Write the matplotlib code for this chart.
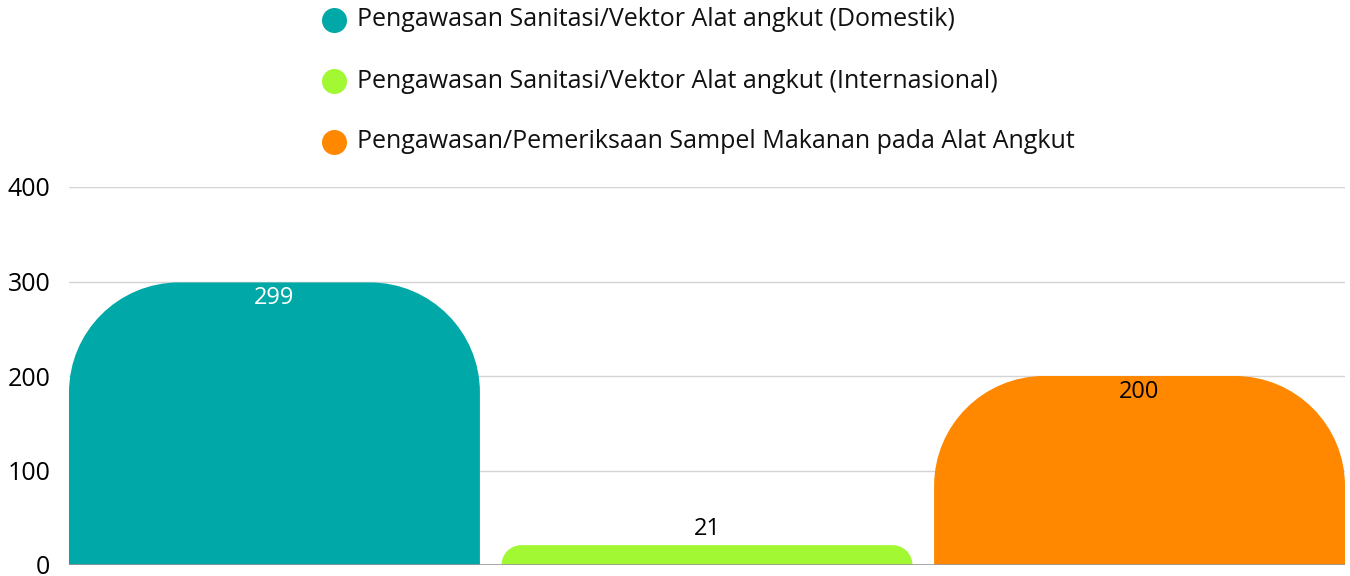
import matplotlib
matplotlib.use("Agg")
import matplotlib.pyplot as plt
from matplotlib.path import Path
from matplotlib.patches import PathPatch
from matplotlib.lines import Line2D

plt.rcParams['font.family'] = ['Open Sans', 'DejaVu Sans']

series = ["Pengawasan Sanitasi/Vektor Alat angkut (Domestik)",
          "Pengawasan Sanitasi/Vektor Alat angkut (Internasional)",
          "Pengawasan/Pemeriksaan Sampel Makanan pada Alat Angkut"]
values = [299, 21, 200]
colors = ["#00A9A7", "#A2F833", "#FF8800"]
label_colors = ["white", "black", "black"]
yticks = [0, 100, 200, 300, 400]

W, H = 1350, 576
fig = plt.figure(figsize=(W / 100, H / 100), dpi=100)
ax_l, ax_r, ax_b, ax_t = 69, 1345, 565, 187
ax = fig.add_axes([ax_l / W, 1 - ax_b / H, (ax_r - ax_l) / W, (ax_b - ax_t) / H])
ax.set_xlim(-0.475, 2.475)
ax.set_ylim(0, 400)

# pixel scales
px_x = (ax_r - ax_l) / (2.475 + 0.475)
px_y = (ax_b - ax_t) / 400.0
bw = 0.95
rad_px = 110
K = 0.5523

def rounded_bar(xc, h):
    r_px = min(rad_px, h * px_y, bw * px_x / 2)
    rx = r_px / px_x
    ry = r_px / px_y
    x0, x1 = xc - bw / 2, xc + bw / 2
    verts = [(x0, 0), (x0, h - ry),
             (x0, h - ry + K * ry), (x0 + rx - K * rx, h), (x0 + rx, h),
             (x1 - rx, h),
             (x1 - rx + K * rx, h), (x1, h - ry + K * ry), (x1, h - ry),
             (x1, 0), (x0, 0)]
    codes = [Path.MOVETO, Path.LINETO,
             Path.CURVE4, Path.CURVE4, Path.CURVE4,
             Path.LINETO,
             Path.CURVE4, Path.CURVE4, Path.CURVE4,
             Path.LINETO, Path.CLOSEPOLY]
    return PathPatch(Path(verts, codes), facecolor=None, edgecolor='none')

for i, (v, c) in enumerate(zip(values, colors)):
    p = rounded_bar(i, v)
    p.set_facecolor(c)
    p.set_zorder(3)
    ax.add_patch(p)
    if v * px_y > 40:
        ax.annotate(str(v), (i, v), xytext=(0, -16 * 0.72), textcoords='offset points',
                    ha='center', va='center', color=label_colors[i], fontsize=17, zorder=4)
    else:
        ax.annotate(str(v), (i, v), xytext=(0, 16 * 0.72), textcoords='offset points',
                    ha='center', va='center', color='black', fontsize=17, zorder=4)

ax.set_yticks(yticks)
ax.set_yticklabels([str(t) for t in yticks], fontsize=18, color='black')
ax.tick_params(axis='y', length=0, pad=13.5)
ax.set_xticks([])
for s in ax.spines.values():
    s.set_visible(False)
ax.grid(axis='y', color='#d4d4d4', linewidth=1, zorder=0)
ax.axhline(0, color='#999999', linewidth=1.2, zorder=5)

# legend
rows_y = [20, 81, 142]
for name, c, yy in zip(series, colors, rows_y):
    fy = 1 - yy / H
    fig.add_artist(Line2D([334 / W], [fy], marker='o', markersize=17, color=c,
                          linestyle='none', transform=fig.transFigure))
    fig.text(357 / W, fy, name, ha='left', va='center', fontsize=18, color='#111111')

fig.savefig("out.png", dpi=100)
